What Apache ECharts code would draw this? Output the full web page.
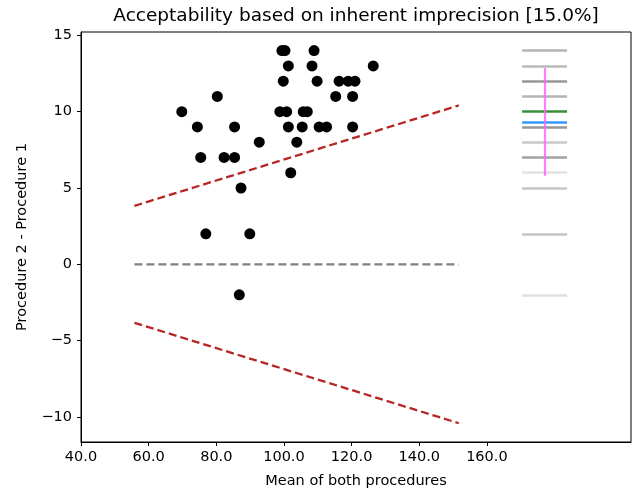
<!DOCTYPE html>
<html>
<head>
<meta charset="utf-8">
<script src="https://cdn.jsdelivr.net/npm/echarts@6/dist/echarts.min.js"></script>
<style>html,body{margin:0;padding:0;background:#fff;}#c{width:632px;height:490px;}</style>
</head>
<body>
<div id="c"></div>
<script>
// Scatter: mean of both procedures (x) vs difference (y)
const meanX = [69.8, 74.4, 75.4, 76.9, 80.3, 82.3, 85.4, 85.4, 87.3, 86.8, 89.9, 92.7,
  98.8, 99.4, 99.8, 100.3, 100.8, 101.3, 101.3, 102.0, 103.8, 105.4, 105.7, 106.9,
  108.3, 108.9, 109.8, 110.4, 112.6, 115.3, 116.3, 119.0, 120.3, 120.3, 121.0, 126.4];
const diffY = [10, 9, 7, 2, 11, 7, 9, 7, 5, -2, 2, 8,
  10, 14, 12, 14, 10, 13, 9, 6, 8, 9, 10, 10,
  13, 14, 12, 9, 9, 11, 12, 12, 11, 9, 12, 13];
// acceptability limits (endpoints)
const limitX = [55.8, 151.7];
const upperY = [3.83, 10.41];
const lowerY = [-3.83, -10.41];
const zeroY = [0, 0];
// histogram-like strip on the right
const stripX = [170.4, 183.7];
const stripLevels = [14, 13, 12, 11, 9, 8, 7, 6, 5, 2, -2];
const stripColors = ['#b4b4b4', '#bababa', '#979797', '#b4b4b4', '#979797', '#c8c8c8', '#a2a2a2', '#e2e2e2', '#c6c6c6', '#c4c4c4', '#e0e0e0'];
const medianY = 10;
const meanY = 9.33;
const sdX = 177.0;
const sdRange = [5.8, 12.85];
const xTicks = [40, 60, 80, 100, 120, 140, 160];
const yTicks = [-10, -5, 0, 5, 10, 15];
const titleText = 'Acceptability based on inherent imprecision [15.0%]';

const FONT = 'DejaVu Sans';
const chart = echarts.init(document.getElementById('c'), null, {renderer: 'canvas'});

const stripData = stripLevels.map((v, i) => ({
  coords: [[stripX[0], v], [stripX[1], v]],
  lineStyle: {color: stripColors[i]}
}));

chart.setOption({
  animation: false,
  backgroundColor: '#fff',
  graphic: [
    {type: 'text', x: 356, y: 16, style: {text: titleText, fill: '#000',
      font: '18.5px "DejaVu Sans"', align: 'center', verticalAlign: 'middle'}}
  ],
  grid: {left: 81, right: 1, top: 32, bottom: 48, show: true, borderColor: '#000', borderWidth: 1,
    containLabel: false, outerBoundsMode: 'none'},
  xAxis: {
    type: 'value', min: 40, max: 202.6,
    name: 'Mean of both procedures', nameLocation: 'middle', nameGap: 32,
    nameTextStyle: {fontFamily: FONT, fontSize: 14.5, color: '#000'},
    axisLine: {show: true, onZero: false, lineStyle: {color: '#000', width: 1}},
    axisTick: {show: true, inside: false, length: 4, customValues: xTicks, lineStyle: {color: '#000'}},
    axisLabel: {customValues: xTicks, margin: 8, fontFamily: FONT, fontSize: 14.5, color: '#000',
      formatter: v => v.toFixed(1)},
    splitLine: {show: false}
  },
  yAxis: {
    type: 'value', min: -11.64, max: 15.22,
    name: 'Procedure 2 - Procedure 1', nameLocation: 'middle', nameGap: 51, nameRotate: 90,
    nameTextStyle: {fontFamily: FONT, fontSize: 14.5, color: '#000'},
    axisLine: {show: true, onZero: false, lineStyle: {color: '#000', width: 1}},
    axisTick: {show: true, inside: false, length: 4, customValues: yTicks, lineStyle: {color: '#000'}},
    axisLabel: {customValues: yTicks, margin: 9, fontFamily: FONT, fontSize: 14.5, color: '#000',
      formatter: v => (v < 0 ? '\u2212' + Math.abs(v) : String(v))},
    splitLine: {show: false}
  },
  series: [
    {type: 'line', data: limitX.map((x, i) => [x, zeroY[i]]), symbol: 'none', z: 2,
      lineStyle: {color: '#808080', width: 2.3, type: [8, 4]}},
    {type: 'line', data: limitX.map((x, i) => [x, upperY[i]]), symbol: 'none', z: 2,
      lineStyle: {color: '#b82525', width: 2.3, type: [8, 4]}},
    {type: 'line', data: limitX.map((x, i) => [x, lowerY[i]]), symbol: 'none', z: 2,
      lineStyle: {color: '#b82525', width: 2.3, type: [8, 4]}},
    {type: 'scatter', data: meanX.map((x, i) => [x, diffY[i]]), symbol: 'circle', symbolSize: 11,
      itemStyle: {color: '#000', opacity: 1}, z: 3},
    {type: 'lines', coordinateSystem: 'cartesian2d', data: stripData, z: 2,
      lineStyle: {width: 2.5, opacity: 1}},
    {type: 'lines', coordinateSystem: 'cartesian2d', z: 3,
      data: [
        {coords: [[stripX[0], medianY], [stripX[1], medianY]], lineStyle: {color: '#3a8e3a'}},
        {coords: [[stripX[0], meanY], [stripX[1], meanY]], lineStyle: {color: '#3399ff'}}
      ],
      lineStyle: {width: 2.5, opacity: 1}},
    {type: 'lines', coordinateSystem: 'cartesian2d', z: 4,
      data: [{coords: [[sdX, sdRange[0]], [sdX, sdRange[1]]]}],
      lineStyle: {width: 2.2, color: '#ff66ff', opacity: 0.85}}
  ]
});
</script>
</body>
</html>
